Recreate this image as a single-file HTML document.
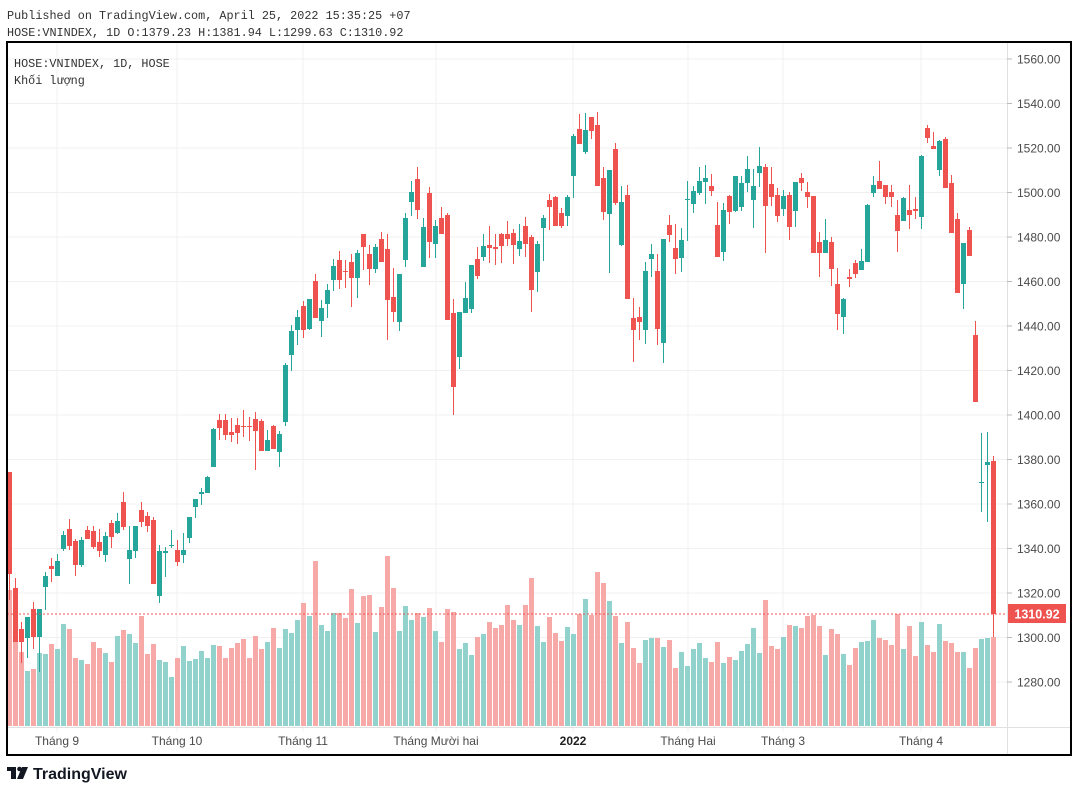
<!DOCTYPE html>
<html><head><meta charset="utf-8"><style>
html,body{margin:0;padding:0;background:#fff;}
svg{display:block;}
.m{font-family:"Liberation Mono",monospace;font-size:11.8px;fill:#333;}
.a{font-family:"Liberation Sans",sans-serif;font-size:12px;fill:#4a4a4a;}
</style></head><body>
<svg id="s" width="1078" height="792" viewBox="0 0 1078 792" xmlns="http://www.w3.org/2000/svg">
<rect width="1078" height="792" fill="#fff"/>
<g id="grid"></g>
<g id="vol"></g>
<g id="cdl"></g>
<line x1="7" y1="614" x2="1007" y2="614" stroke="#ef5350" stroke-width="1" stroke-dasharray="2,2"/>
<line x1="1007.5" y1="42" x2="1007.5" y2="755" stroke="#e0e0e0"/>
<line x1="7" y1="727.5" x2="1071" y2="727.5" stroke="#e0e0e0"/>
<rect x="7" y="42" width="1064" height="713" fill="none" stroke="#000" stroke-width="2"/>
<g id="pl"></g>
<rect x="1008" y="604" width="58" height="19" fill="#ef5350"/>
<text x="1037" y="618.5" text-anchor="middle" style="font-family:'Liberation Sans',sans-serif;font-size:12.5px;font-weight:bold;fill:#fff">1310.92</text>
<text class="m" x="7" y="19">Published on TradingView.com, April 25, 2022 15:35:25 +07</text>
<text class="m" x="7" y="36">HOSE:VNINDEX, 1D O:1379.23 H:1381.94 L:1299.63 C:1310.92</text>
<text class="m" x="14" y="67">HOSE:VNINDEX, 1D, HOSE</text>
<text class="m" x="14" y="84" style="font-family:'Liberation Mono','Noto Sans CJK SC',monospace">Khối lượng</text>
<g class="a">
<text x="57" y="745" text-anchor="middle">Tháng 9</text>
<text x="177" y="745" text-anchor="middle">Tháng 10</text>
<text x="303" y="745" text-anchor="middle">Tháng 11</text>
<text x="436" y="745" text-anchor="middle">Tháng Mười hai</text>
<text x="573" y="745" text-anchor="middle" style="font-weight:bold;fill:#222">2022</text>
<text x="688" y="745" text-anchor="middle">Tháng Hai</text>
<text x="783" y="745" text-anchor="middle">Tháng 3</text>
<text x="921" y="745" text-anchor="middle">Tháng 4</text>
</g>
<g fill="#131722">
<rect x="7" y="767" width="9" height="4"/><rect x="11" y="767" width="5" height="12"/>
<circle cx="19.5" cy="769" r="2.3"/>
<polygon points="22,767 28,767 23,779 17,779"/>
</g>
<text x="33" y="779" style="font-family:'Liberation Sans',sans-serif;font-size:16px;font-weight:bold;fill:#131722">TradingView</text>
</svg>
<script>
var D="r 472 574 472 600 590|r 588 642 578 642 640|r 629 642 622 663 652|g 617 638 617 658 671|r 609 637 602 649 669|g 609 637 609 672 653|g 576 587 572 610 654|r 566 569 558 582 644|g 561 576 554 576 649|g 535 549 531 551 624|r 529 546 519 550 629|r 541 565 539 576 658|g 540 565 537 567 660|r 530 539 526 539 664|r 531 547 526 549 642|r 542 551 529 557 648|g 536 555 532 562 653|r 523 537 520 548 662|g 521 533 513 534 636|r 502 527 492 530 630|g 550 559 526 584 634|g 526 551 526 558 643|r 510 522 502 527 616|r 516 526 512 532 654|r 520 584 517 584 644|g 551 596 545 603 660|g 551 553 547 577 662|g 545 546 530 548 677|r 550 562 540 566 658|g 550 555 533 563 646|g 517 538 517 543 661|g 499 507 499 518 659|g 492 494 488 505 651|g 477 493 476 493 658|g 429 467 428 467 645|r 420 428 414 440 646|r 420 435 414 440 658|r 432 435 418 442 648|r 425 433 418 444 643|r 426 427 410 437 639|r 426 427 417 441 658|r 419 431 412 470 636|r 421 451 419 451 649|g 440 451 430 451 642|r 426 449 425 449 628|g 434 452 431 467 648|g 365 422 363 426 629|g 331 355 325 371 633|g 317 330 310 345 620|r 306 330 301 338 603|g 299 329 299 330 616|r 281 318 274 318 561|g 308 321 300 337 625|g 290 304 284 318 631|g 266 280 259 291 613|r 260 280 251 289 613|r 271 272 260 288 618|r 262 278 254 307 589|g 253 278 250 298 623|r 234 247 234 270 596|r 254 269 245 285 595|g 247 269 244 273 632|r 239 262 232 262 607|r 249 300 234 340 556|r 297 312 268 322 588|g 274 322 274 331 631|g 218 260 213 267 606|g 192 202 181 216 620|r 179 210 167 219 613|g 227 267 218 267 617|r 193 242 187 258 608|g 226 244 220 258 631|r 218 234 207 234 642|r 215 320 213 320 609|r 313 387 299 415 612|g 312 357 312 369 649|g 298 313 282 313 643|g 265 309 265 313 655|r 259 276 247 279 637|g 246 257 234 261 634|r 245 248 226 263 622|r 247 249 234 265 628|r 234 246 233 263 625|r 234 239 221 246 605|r 233 245 229 264 620|g 241 249 224 256 625|r 226 244 217 257 605|r 237 290 235 312 578|g 244 272 241 292 626|g 218 228 215 261 642|r 200 207 194 230 617|r 197 226 196 226 633|r 213 226 208 228 641|g 197 216 195 226 627|g 136 176 134 198 634|r 129 144 114 144 614|g 130 152 113 154 599|r 117 131 117 139 615|r 125 186 112 186 572|r 178 212 167 220 583|g 170 214 170 273 601|r 149 203 143 205 616|g 202 245 186 246 643|r 195 299 185 299 622|r 318 330 298 362 648|r 317 322 307 340 663|g 271 330 262 344 640|g 254 259 244 277 638|r 271 329 254 345 638|g 239 343 239 363 647|r 225 235 215 242 640|r 248 259 224 274 668|g 240 258 228 272 652|g 199 200 181 241 666|g 191 204 186 213 649|g 181 193 167 195 643|g 178 182 165 204 658|r 186 191 174 196 662|r 225 257 202 257 642|g 210 252 203 261 663|r 196 212 195 224 657|g 176 211 176 212 660|g 183 207 176 211 651|g 169 183 156 192 644|g 186 200 169 228 628|g 166 173 147 187 653|r 167 206 164 253 600|r 184 197 167 206 646|r 195 216 188 222 649|g 196 209 190 216 637|r 195 227 192 240 625|g 182 211 182 227 626|r 178 183 173 191 628|r 192 197 182 208 616|r 196 253 196 253 615|r 242 253 232 277 626|g 240 253 219 253 655|r 242 269 237 286 629|r 284 314 268 330 634|g 299 317 298 334 654|r 277 279 269 287 665|r 263 274 260 278 648|g 261 270 249 270 642|g 205 262 204 262 641|g 185 193 176 197 620|r 181 189 161 189 638|r 185 197 185 204 640|r 192 197 185 207 645|r 215 231 200 252 614|g 198 221 197 221 649|r 210 215 185 229 626|r 209 211 197 219 656|g 156 217 155 229 622|r 128 138 125 143 645|r 146 149 132 149 652|g 141 170 140 176 624|r 139 188 137 188 641|r 183 233 175 233 643|r 219 293 213 293 652|g 243 284 243 309 652|r 230 256 227 256 668|r 335 402 321 402 648|g 482 483 433 512 639|g 462 465 432 522 638|r 461 614 456 637 637";
var NS="http://www.w3.org/2000/svg";
function el(p,t,a){var e=document.createElementNS(NS,t);for(var k in a)e.setAttribute(k,a[k]);p.appendChild(e);return e;}
var grid=document.getElementById("grid"),pl=document.getElementById("pl");
for(var p=1280;p<=1560;p+=20){var y=59+(1560-p)*2.225;
 el(grid,"line",{x1:7,x2:1007,y1:y,y2:y,stroke:"#f0f0f0","stroke-width":1});
 el(pl,"line",{x1:1007,x2:1012,y1:y,y2:y,stroke:"#bbb","stroke-width":1});
 var t=el(pl,"text",{x:1017,y:y+4.3,"class":"a"});t.textContent=p+".00";}
[57,177,303,436,573,688,783,921].forEach(function(x){el(grid,"line",{x1:x,x2:x,y1:42,y2:732,stroke:"#f0f0f0","stroke-width":1});});
var vol=document.getElementById("vol"),cdl=document.getElementById("cdl");
D.split("|").forEach(function(s,i){var a=s.split(" "),c=a[0]=="r",x=9.5+6*i;
 var t=+a[1],b=+a[2],wt=+a[3],wb=+a[4],v=+a[5];
 el(vol,"rect",{x:x-2.5,y:v,width:5,height:726-v,fill:c?"#f7a9a7":"#92d2cc"});
 var col=c?"#ef5350":"#26a69a";
 el(cdl,"rect",{x:x-0.5,y:wt,width:1,height:Math.max(1,wb-wt),fill:col});
 el(cdl,"rect",{x:x-2.5,y:t,width:5,height:Math.max(1,b-t),fill:col});
});
</script>
</body></html>
